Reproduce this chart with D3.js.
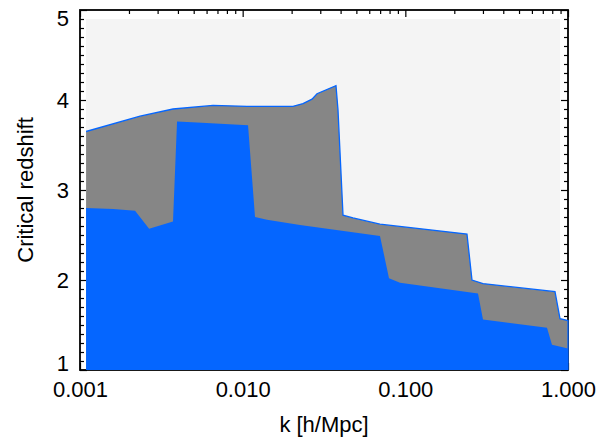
<!DOCTYPE html>
<html>
<head>
<meta charset="utf-8">
<script src="https://cdn.jsdelivr.net/npm/d3@7"></script>
<style>
  body { margin: 0; background: #fff; }
  text { font-family: "Liberation Sans", Arial, Helvetica, sans-serif; fill: #000; }
</style>
</head>
<body>
<div id="chart"></div>
<script>
// upper boundary (grey region top, blue outline)
const kUpper = [0.00109, 0.00234, 0.00373, 0.00657, 0.01063, 0.02039, 0.02349, 0.02669, 0.02864,
  0.03747, 0.03855, 0.04139, 0.04767, 0.06985, 0.2393, 0.2569, 0.3002, 0.8318, 0.8929, 1.0];
const zUpper = [3.65, 3.82, 3.90, 3.94, 3.93, 3.93, 3.96, 4.01, 4.07,
  4.16, 3.89, 2.72, 2.69, 2.62, 2.51, 2.00, 1.96, 1.87, 1.57, 1.55];

// lower boundary (blue region top)
const kLower = [0.00109, 0.0016, 0.00218, 0.00266, 0.00373, 0.00395, 0.00524, 0.01079, 0.01191,
  0.01411, 0.02251, 0.06985, 0.07935, 0.09273, 0.2797, 0.3002, 0.7429, 0.7972, 1.0];
const zLower = [2.80, 2.79, 2.77, 2.57, 2.65, 3.76, 3.75, 3.72, 2.70,
  2.67, 2.61, 2.49, 2.02, 1.97, 1.85, 1.56, 1.47, 1.28, 1.24];

const xMajor = [0.001, 0.01, 0.1, 1];
const yMajor = [1, 2, 3, 4, 5];

const width = 611, height = 441;
const margin = { top: 10, right: 43, bottom: 71, left: 80 };
const x0 = margin.left, x1 = width - margin.right;
const y0 = margin.top, y1 = height - margin.bottom;

const x = d3.scaleLog().domain([0.001, 1]).range([x0, x1]);
const y = d3.scaleLinear().domain([1, 5]).range([y1, y0]);

const xMinor = [];
for (let d = 0.001; d < 1; d *= 10) {
  for (let m = 2; m <= 9; m++) xMinor.push(d * m);
}
const yMinor = d3.range(10, 51).map((v) => v / 10).filter((v) => v % 1 !== 0);

const svg = d3.select("#chart").append("svg")
  .attr("width", width)
  .attr("height", height);

function tickAxis(axis, pos, values, size, labels, padding) {
  const g = svg.append("g")
    .attr("transform", pos)
    .call(axis.tickValues(values).tickSize(-size).tickPadding(padding || 0)
      .tickFormat(labels || (() => "")));
  g.select(".domain").remove();
  g.selectAll(".tick line").attr("stroke", "#000").attr("stroke-width", 1.2);
  g.selectAll("text").style("font-size", "22px").attr("fill", "#000");
  return g;
}

// axes (drawn first, fills go over them like the original)
tickAxis(d3.axisBottom(x), `translate(0,${y1})`, xMajor, 7, d3.format(".3f"), 11);
tickAxis(d3.axisBottom(x), `translate(0,${y1})`, xMinor, 4);
tickAxis(d3.axisTop(x), `translate(0,${y0})`, xMajor, 7);
tickAxis(d3.axisTop(x), `translate(0,${y0})`, xMinor, 4);
const yAxisG = tickAxis(d3.axisLeft(y), `translate(${x0},0)`, yMajor, 7, d3.format("d"), 11);
// end labels sit inside the axis range, like the original
yAxisG.selectAll("text")
  .attr("dy", (d) => (d === 5 ? "0.72em" : d === 1 ? "0em" : "0.36em"));
tickAxis(d3.axisLeft(y), `translate(${x0},0)`, yMinor, 4);
tickAxis(d3.axisRight(y), `translate(${x1},0)`, yMajor, 7);
tickAxis(d3.axisRight(y), `translate(${x1},0)`, yMinor, 4);

svg.append("rect")
  .attr("x", x0).attr("y", y0)
  .attr("width", x1 - x0).attr("height", y1 - y0)
  .attr("fill", "none").attr("stroke", "#000").attr("stroke-width", 1.8);

// light background panel
svg.append("rect")
  .attr("x", x0 + 6).attr("y", y0 + 9)
  .attr("width", x1 - x0 - 14).attr("height", y1 - y0 - 9)
  .attr("fill", "#f4f4f4");

const upper = kUpper.map((k, i) => [k, zUpper[i]]);
const lower = kLower.map((k, i) => [k, zLower[i]]);

const area = d3.area()
  .x((d) => x(d[0]))
  .y0(y(1))
  .y1((d) => y(d[1]));

svg.append("path").datum(upper).attr("d", area).attr("fill", "#868686");
svg.append("path").datum(lower).attr("d", area).attr("fill", "#0566ff");

const line = d3.line().x((d) => x(d[0])).y((d) => y(d[1]));
svg.append("path")
  .datum(upper.concat([[1, 1]]))
  .attr("d", line)
  .attr("fill", "none")
  .attr("stroke", "#0566ff")
  .attr("stroke-width", 1.3);

// axis titles
svg.append("text")
  .attr("x", (x0 + x1) / 2).attr("y", 432)
  .attr("text-anchor", "middle")
  .style("font-size", "22px")
  .text("k [h/Mpc]");

svg.append("text")
  .attr("transform", `translate(33,${(y0 + y1) / 2}) rotate(-90)`)
  .attr("text-anchor", "middle")
  .style("font-size", "22px")
  .text("Critical redshift");
</script>
</body>
</html>
